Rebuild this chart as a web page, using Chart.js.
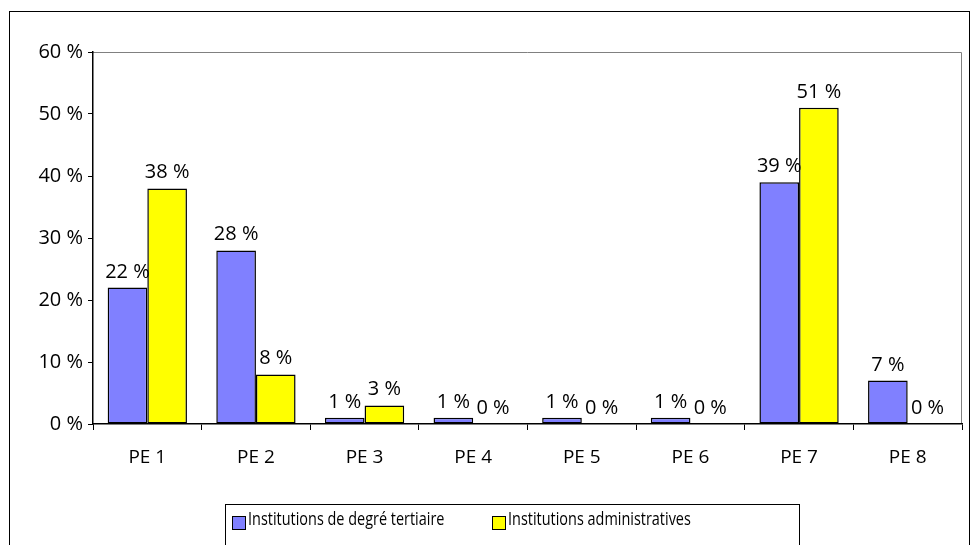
<!DOCTYPE html>
<html>
<head>
<meta charset="utf-8">
<script src="https://cdn.jsdelivr.net/npm/chart.js@4"></script>
<style>
  body { margin: 0; background: #fff; }
  #wrap { position: relative; width: 972px; height: 545px; overflow: hidden; }
  #legend {
    position: absolute; left: 225px; top: 504px; width: 575px; height: 60px;
    border: 1px solid #000; box-sizing: border-box;
    font-family: "Open Sans", sans-serif; font-size: 19px; color: #000;
  }
  #legend .item { position: absolute; top: 0px; white-space: nowrap; }
  #legend .box {
    display: inline-block; width: 12px; height: 12px; border: 1.5px solid #000;
    vertical-align: -5px; margin-right: 2px;
  }
  #legend .txt { display: inline-block; transform: scaleX(0.76); transform-origin: left center; }
</style>
</head>
<body>
<div id="wrap">
  <canvas id="myChart" width="972" height="545"></canvas>
  <div id="legend"></div>
</div>
<script>
const categories = ['PE 1', 'PE 2', 'PE 3', 'PE 4', 'PE 5', 'PE 6', 'PE 7', 'PE 8'];
const tertiaire = [22, 28, 1, 1, 1, 1, 39, 7];
const administratives = [38, 8, 3, 0, 0, 0, 51, 0];
const seriesNames = ['Institutions de degré tertiaire', 'Institutions administratives'];
const seriesColors = ['#8080ff', '#ffff00'];
const yTicks = [0, 10, 20, 30, 40, 50, 60];

const font = "'Open Sans', sans-serif";

// frame around whole chart + grey top/right plot border
const framePlugin = {
    id: 'frame',
    beforeDraw(chart) {
        const c = chart.ctx;
        const a = chart.chartArea;
        c.save();
        c.strokeStyle = '#000';
        c.lineWidth = 1;
        c.strokeRect(9.5, 11.5, 960, 600);
        c.strokeStyle = '#808080';
        c.beginPath();
        c.moveTo(a.left, a.top + 0.5);
        c.lineTo(a.right - 0.5, a.top + 0.5);
        c.lineTo(a.right - 0.5, a.bottom);
        c.stroke();
        c.restore();
    }
};

// value labels above bars
const labelPlugin = {
    id: 'valueLabels',
    afterDatasetsDraw(chart) {
        const c = chart.ctx;
        c.save();
        c.font = '20px ' + font;
        c.fillStyle = '#000';
        c.textAlign = 'center';
        c.textBaseline = 'alphabetic';
        chart.data.datasets.forEach((ds, i) => {
            chart.getDatasetMeta(i).data.forEach((bar, j) => {
                c.fillText(ds.data[j] + ' %', bar.x, bar.y - 10);
            });
        });
        c.restore();
    }
};

const ctx = document.getElementById('myChart').getContext('2d');
const chart = new Chart(ctx, {
    type: 'bar',
    data: {
        labels: categories,
        datasets: [{
            label: seriesNames[0],
            data: tertiaire,
            backgroundColor: seriesColors[0],
            borderColor: '#000',
            borderWidth: 1.5,
            borderSkipped: false
        }, {
            label: seriesNames[1],
            data: administratives,
            backgroundColor: seriesColors[1],
            borderColor: '#000',
            borderWidth: 1.5,
            borderSkipped: false
        }]
    },
    options: {
        responsive: false,
        animation: false,
        categoryPercentage: 0.73,
        barPercentage: 1,
        layout: {
            padding: { left: 0, right: 10, top: 52, bottom: 0 }
        },
        plugins: {
            legend: { display: false },
            tooltip: { enabled: false }
        },
        scales: {
            x: {
                afterFit: s => { s.height = 121; },
                grid: {
                    offset: true,
                    drawOnChartArea: false,
                    tickLength: 6,
                    color: '#000'
                },
                border: { color: '#000', width: 1.5 },
                ticks: {
                    padding: 16,
                    color: '#000',
                    font: { family: font, size: 19 }
                }
            },
            y: {
                min: 0,
                max: 60,
                afterFit: s => { s.width = 93; },
                afterBuildTicks: s => { s.ticks = yTicks.map(v => ({ value: v })); },
                grid: {
                    drawOnChartArea: false,
                    tickLength: 5,
                    color: '#000'
                },
                border: { color: '#000', width: 1.5 },
                ticks: {
                    padding: 5,
                    color: '#000',
                    font: { family: font, size: 20 },
                    callback: v => v + ' %'
                }
            }
        }
    },
    plugins: [framePlugin, labelPlugin]
});

// legend built from the same series arrays
const legend = document.getElementById('legend');
const legendX = [6, 266];
seriesNames.forEach((name, i) => {
    const item = document.createElement('div');
    item.className = 'item';
    item.style.left = legendX[i] + 'px';
    item.innerHTML = '<span class="box" style="background:' + seriesColors[i] + '"></span>' +
        '<span class="txt">' + name + '</span>';
    legend.appendChild(item);
});
</script>
</body>
</html>
